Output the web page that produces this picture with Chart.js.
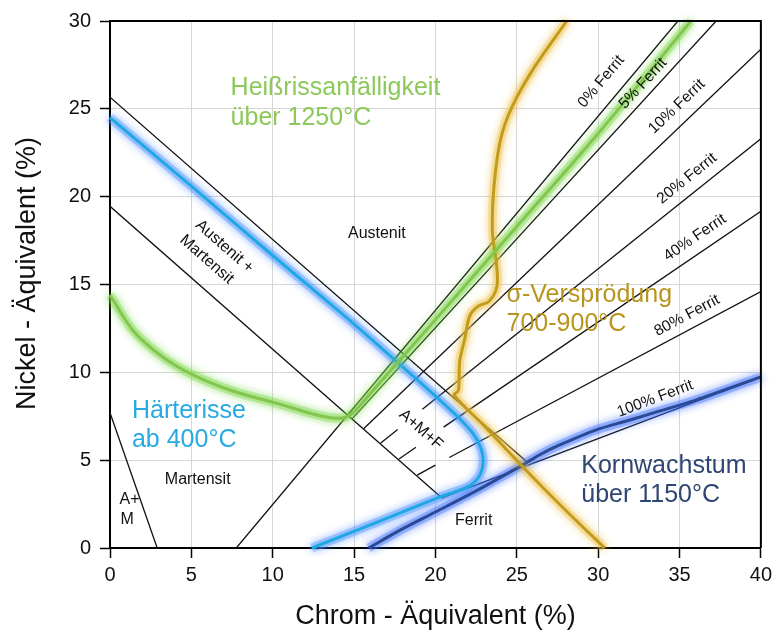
<!DOCTYPE html>
<html>
<head>
<meta charset="utf-8">
<script src="https://cdn.jsdelivr.net/npm/chart.js@4.4.1/dist/chart.umd.min.js"></script>
<style>
  html, body { margin: 0; padding: 0; background: #fff; }
</style>
</head>
<body>
<canvas id="chartSchaeffler" width="777" height="631"></canvas>
<script>
'use strict';

// axis ticks
var xTicks = [0, 5, 10, 15, 20, 25, 30, 35, 40];
var yTicks = [0, 5, 10, 15, 20, 25, 30];

// phase boundaries (Chrom-Aeq, Nickel-Aeq)
var lineAM = [[0, 7.7], [2.9, 0]];
var lineMartensit = [[0, 19.45], [20.4, 2.85]];
var lineAustenit = [[0, 25.66], [25.7, 4.84]];

// ferrite lines, some are broken around the A+M+F label
var ferrit0 = [[[7.76, 0], [34.9, 30]]];
var ferrit5 = [[[14.9, 7.38], [37.25, 30]]];
var ferrit10 = [[[15.6, 6.8], [40, 28.4]]];
var ferrit20 = [[[16.64, 5.98], [17.68, 6.75]], [[19.2, 7.9], [40, 23.3]]];
var ferrit40 = [[[17.76, 5.07], [18.8, 5.74]], [[20.5, 6.88], [40, 19.17]]];
var ferrit80 = [[[18.88, 4.15], [20.0, 4.72]], [[20.85, 5.15], [40, 14.6]]];
var ferrit100 = [[[20.4, 2.85], [40, 9.74]]];

// highlighted zones
var heissriss = [[0, 14.4], [1.4, 12.4], [3.2, 10.9], [5, 9.9], [7.5, 8.95], [10.2, 8.25], [12.6, 7.6],
  [14.0, 7.38], [14.8, 7.6], [16, 8.8], [20, 13.0], [25, 18.3], [30, 23.6], [35.7, 30]];
var haerterisse = [[0, 24.5], [5, 20.6], [10, 16.65], [15, 12.75], [18, 10.3], [20, 8.65], [21.5, 7.35],
  [22.4, 6.4], [22.9, 5.3], [22.8, 4.3], [22.2, 3.6], [21.2, 3.2], [20.4, 2.95], [16.5, 1.5], [12.4, 0]];
var sigma = [[28.07, 30], [26.1, 27.4], [24.7, 25.1], [24.0, 23.25], [23.6, 20.6], [23.5, 18.0], [23.75, 16.2],
  [23.78, 14.9], [23.3, 14.05], [22.6, 13.75], [22.1, 13.2], [21.8, 11.9], [21.5, 10.7], [21.45, 9.6],
  [21.4, 8.95], [21.15, 8.7], [23, 6.95], [25.7, 4.3], [28, 2.15], [30.4, 0]];
var kornwachstum = [[15.9, 0], [17.8, 1.0], [20, 2.05], [22.5, 3.25], [25.3, 4.7], [26.5, 5.35], [27.6, 5.85],
  [29.8, 6.7], [32, 7.3], [33.5, 7.72], [36, 8.42], [40, 9.74]];

var FONT = '"Liberation Sans", Arial, sans-serif';

function toXY(points) {
	return points.map(function(p) { return { x: p[0], y: p[1] }; });
}

function blackLine(points) {
	return { data: toXY(points), showLine: true, borderColor: '#111', borderWidth: 1.3, pointRadius: 0, tension: 0 };
}

var zones = [
	{ pts: heissriss, color: '#84c550', glow: 'rgba(120,215,70,0.9)', tension: 0.35 },
	{ pts: haerterisse, color: '#1fa9e1', glow: 'rgba(70,140,255,0.85)', tension: 0.3 },
	{ pts: sigma, color: '#c39a1a', glow: 'rgba(235,195,80,0.9)', tension: 0.3 },
	{ pts: kornwachstum, color: '#2b4a94', glow: 'rgba(60,110,255,0.9)', tension: 0.3 }
];

var datasets = [];
zones.forEach(function(z) {
	datasets.push({ data: toXY(z.pts), showLine: true, borderColor: z.color, borderWidth: 3, pointRadius: 0,
		tension: z.tension, glow: z.glow, clip: 10 });
});
zones.forEach(function(z) {
	datasets.push({ data: toXY(z.pts), showLine: true, borderColor: z.glow.replace(/[\d.]+\)$/, '0.35)'),
		borderWidth: 9, pointRadius: 0, tension: z.tension, glow: z.glow, clip: 10 });
});
[lineAM, lineMartensit, lineAustenit].forEach(function(l) { datasets.push(blackLine(l)); });
[ferrit0, ferrit5, ferrit10, ferrit20, ferrit40, ferrit80, ferrit100].forEach(function(f) {
	f.forEach(function(seg) { datasets.push(blackLine(seg)); });
});

// soft glow round the coloured curves
var glowPlugin = {
	id: 'glow',
	beforeDatasetDraw: function(chart, args) {
		var ds = chart.data.datasets[args.index];
		if (!ds.glow) return;
		chart.ctx.save();
		chart.ctx.shadowColor = ds.glow;
		chart.ctx.shadowBlur = 9;
	},
	afterDatasetDraw: function(chart, args) {
		if (chart.data.datasets[args.index].glow) chart.ctx.restore();
	}
};

var framePlugin = {
	id: 'frame',
	afterDatasetsDraw: function(chart) {
		var a = chart.chartArea, ctx = chart.ctx;
		ctx.save();
		ctx.strokeStyle = '#000';
		ctx.lineWidth = 2;
		ctx.beginPath();
		ctx.moveTo(a.left, a.top);
		ctx.lineTo(a.right, a.top);
		ctx.lineTo(a.right, a.bottom);
		ctx.stroke();
		ctx.restore();
	}
};

var textPlugin = {
	id: 'diagramText',
	afterDraw: function(chart) {
		var ctx = chart.ctx, xs = chart.scales.x, ys = chart.scales.y, a = chart.chartArea;
		function px(v) { return xs.getPixelForValue(v); }
		function py(v) { return ys.getPixelForValue(v); }
		function slopeAngle(seg) {
			var p = seg[0], q = seg[seg.length - 1];
			return Math.atan2(py(q[1]) - py(p[1]), px(q[0]) - px(p[0]));
		}
		function put(text, x, y, rot, size, color, align, base) {
			ctx.save();
			ctx.translate(x, y);
			ctx.rotate(rot || 0);
			ctx.font = size + 'px ' + FONT;
			ctx.fillStyle = color;
			ctx.textAlign = align || 'center';
			ctx.textBaseline = base || 'middle';
			ctx.fillText(text, 0, 0);
			ctx.restore();
		}
		// region names
		put('Austenit', px(16.4), py(17.9), 0, 16, '#111');
		put('Martensit', px(5.39), py(3.89), 0, 16, '#111');
		put('A+', px(1.2), py(2.75), 0, 16, '#111');
		put('M', px(1.05), py(1.6), 0, 16, '#111');
		put('Ferrit', px(22.35), py(1.56), 0, 16, '#111');
		var diag = -slopeAngle(lineAustenit) * -1;
		put('Austenit +', px(7.04), py(17.16), diag, 16, '#111');
		put('Martensit', px(5.94), py(16.42), diag, 16, '#111');
		put('A+M+F', px(19.1), py(6.74), diag, 16, '#111');

		// ferrite line labels
		var fl = [
			['0% Ferrit', 30.19, 26.55, ferrit0],
			['5% Ferrit', 32.76, 26.44, ferrit5],
			['10% Ferrit', 34.84, 25.13, ferrit10],
			['20% Ferrit', 35.46, 21.03, ferrit20],
			['40% Ferrit', 35.95, 17.67, ferrit40],
			['80% Ferrit', 35.46, 13.23, ferrit80],
			['100% Ferrit', 33.5, 8.5, ferrit100]
		];
		fl.forEach(function(f) {
			var seg = f[3][f[3].length - 1];
			put(f[0], px(f[1]), py(f[2]), slopeAngle(seg), 15.5, '#111');
		});

		// zone captions
		function caption(lines, x, y, color) {
			lines.forEach(function(t, i) {
				put(t, px(x), py(y) + i * 29.5, 0, 25, color, 'left', 'alphabetic');
			});
		}
		caption(['Heißrissanfälligkeit', 'über 1250°C'], 7.41, 25.76, '#8cc85a');
		caption(['Härterisse', 'ab 400°C'], 1.35, 7.42, '#26aae1');
		caption(['σ-Versprödung', '700-900°C'], 24.37, 14.03, '#b8951d');
		caption(['Kornwachstum', 'über 1150°C'], 28.96, 4.29, '#2e4673');

		// axis titles
		put('Chrom - Äquivalent (%)', (a.left + a.right) / 2, chart.height - 14, 0, 27, '#111');
		put('Nickel - Äquivalent (%)', 27.5, (a.top + a.bottom) / 2 - 11, -Math.PI / 2, 27, '#111');
	}
};

var ctx = document.getElementById('chartSchaeffler');
new Chart(ctx, {
	type: 'scatter',
	data: { datasets: datasets },
	options: {
		responsive: false,
		animation: false,
		layout: { padding: { top: 21, right: 14, left: 0, bottom: 0 } },
		plugins: {
			legend: { display: false },
			tooltip: { enabled: false }
		},
		scales: {
			x: {
				type: 'linear',
				min: 0,
				max: 40,
				afterBuildTicks: function(s) { s.ticks = xTicks.map(function(v) { return { value: v }; }); },
				afterFit: function(s) { s.height = 83; },
				ticks: { font: { size: 20, family: FONT }, color: '#111', padding: 5, maxRotation: 0 },
				grid: { color: '#d6d6d6', lineWidth: 1, tickLength: 10, tickColor: '#000', tickWidth: 1.5 },
				border: { color: '#000', width: 2 }
			},
			y: {
				type: 'linear',
				min: 0,
				max: 30,
				afterBuildTicks: function(s) { s.ticks = yTicks.map(function(v) { return { value: v }; }); },
				afterFit: function(s) { s.width = 110; },
				ticks: { font: { size: 20, family: FONT }, color: '#111', padding: 9 },
				grid: { color: '#d6d6d6', lineWidth: 1, tickLength: 10, tickColor: '#000', tickWidth: 1.5 },
				border: { color: '#000', width: 2 }
			}
		}
	},
	plugins: [glowPlugin, framePlugin, textPlugin]
});
</script>
</body>
</html>
